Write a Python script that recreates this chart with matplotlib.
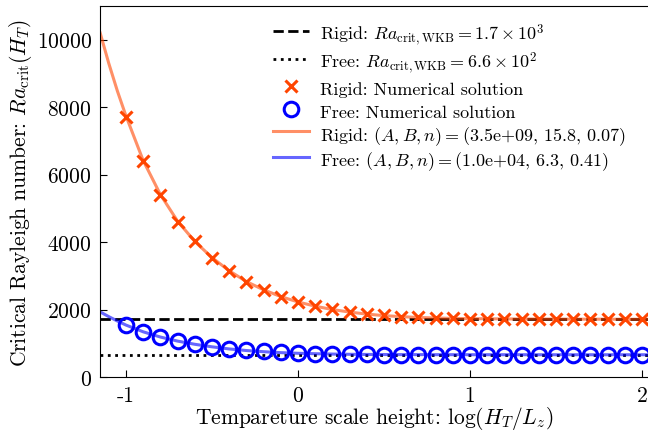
import numpy as np
import matplotlib
matplotlib.use("Agg")
import matplotlib.pyplot as plt

plt.rcParams['font.family'] = 'serif'
plt.rcParams['font.serif'] = ['cmr10']
plt.rcParams['mathtext.fontset'] = 'cm'
plt.rcParams['axes.unicode_minus'] = False
plt.rcParams['axes.formatter.use_mathtext'] = True

# log(H_T / L_z) of the numerical runs
log_h = [-1.0, -0.9, -0.8, -0.7, -0.6, -0.5, -0.4, -0.3, -0.2, -0.1,
         0.0, 0.1, 0.2, 0.3, 0.4, 0.5, 0.6, 0.7, 0.8, 0.9,
         1.0, 1.1, 1.2, 1.3, 1.4, 1.5, 1.6, 1.7, 1.8, 1.9, 2.0]

# numerical critical Rayleigh numbers
ra_rigid = [7720, 6400, 5400, 4610, 4020, 3530, 3136, 2811, 2575, 2380,
            2222, 2103, 2006, 1937, 1858, 1829, 1790, 1765, 1750, 1740,
            1733, 1728, 1724, 1721, 1719, 1717, 1716, 1715, 1714, 1714, 1713]
ra_free = [1534, 1337, 1189, 1071, 973, 894, 826, 790, 758, 729,
           708, 690, 680, 673, 669, 666, 664, 663, 662, 662,
           661, 661, 661, 660, 660, 660, 660, 660, 660, 660, 660]

# fitted curves
fit_x = [-1.15, -1.1, -1.05, -1.0, -0.9, -0.8, -0.7, -0.6, -0.5, -0.4, -0.3,
         -0.2, -0.1, 0.0, 0.1, 0.2, 0.3, 0.4, 0.5, 0.6, 0.7, 0.8, 0.9,
         1.0, 1.2, 1.4, 1.6, 1.8, 2.0, 2.1]
fit_rigid = [10200, 9300, 8480, 7740, 6420, 5410, 4620, 4020, 3540, 3150,
             2830, 2585, 2385, 2225, 2100, 2000, 1925, 1865, 1820, 1790,
             1765, 1750, 1738, 1730, 1722, 1718, 1715, 1713, 1712, 1712]
fit_free = [1930, 1790, 1660, 1540, 1340, 1185, 1065, 970, 895, 832, 785,
            750, 722, 703, 690, 680, 673, 669, 666, 664, 663, 662, 662,
            661, 661, 660, 660, 660, 660, 660]

ra_wkb_rigid = 1710
ra_wkb_free = 660

fig = plt.figure(figsize=(6.48, 4.31), dpi=100)
ax = fig.add_axes([100 / 648, 53 / 431, 548 / 648, 371 / 431])

ax.axhline(ra_wkb_rigid, color='k', ls='--', lw=2,
           label=r'Rigid: $Ra_{\rm crit,WKB} = 1.7 \times 10^3$')
ax.axhline(ra_wkb_free, color='k', ls=':', lw=2,
           label=r'Free: $Ra_{\rm crit,WKB} = 6.6 \times 10^2$')
ax.plot(log_h, ra_rigid, 'x', color='orangered', ms=9, mew=2.2,
        label='Rigid: Numerical solution')
ax.plot(log_h, ra_free, 'o', color='blue', mfc='none', ms=10.5, mew=2.2,
        label='Free: Numerical solution')
ax.plot(fit_x, fit_rigid, '-', color='orangered', alpha=0.6, lw=2.2,
        label=r'Rigid: $(A, B, n) = $(3.5e+09, 15.8, 0.07)')
ax.plot(fit_x, fit_free, '-', color='blue', alpha=0.6, lw=2.2,
        label=r'Free: $(A, B, n) = $(1.0e+04, 6.3, 0.41)')

ax.set_xlim(-1.151, 2.035)
ax.set_ylim(0, 11000)
ax.spines['right'].set_visible(False)
ax.set_xticks([-1, 0, 1, 2])
ax.set_xticklabels(['-1', '0', '1', '2'])
ax.set_yticks([0, 2000, 4000, 6000, 8000, 10000])
ax.tick_params(direction='in', length=5, labelsize=15.5, pad=6)
ax.set_xlabel(r'Tempareture scale height: $\log(H_T/L_z)$', fontsize=15.5)
ax.set_ylabel(r'Critical Rayleigh number: $Ra_{\rm crit}(H_T)$', fontsize=15.5)
ax.xaxis.set_label_coords(0.5, -0.073)
ax.yaxis.set_label_coords(-0.12, 0.5)

ax.legend(loc='upper left', bbox_to_anchor=(0.396, 0.985),
          bbox_transform=fig.transFigure, frameon=False, fontsize=13,
          handlelength=2.0, handleheight=1.42, labelspacing=0.1,
          handletextpad=0.6)

fig.savefig('out.png', dpi=100)
